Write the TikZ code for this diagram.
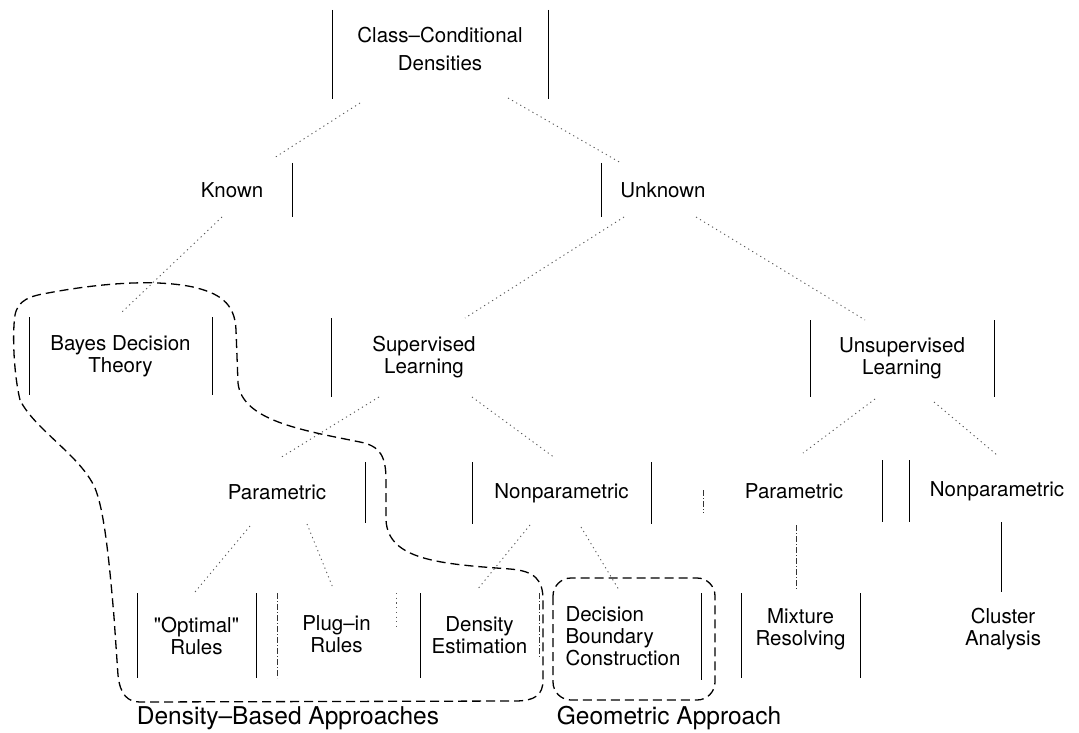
\documentclass[tikz,border=0pt]{standalone}
\usepackage{fontspec}
\setmainfont{TeX Gyre Heros}
\newfontfamily\plainq{TeX Gyre Heros}
\usetikzlibrary{calc}
\newcommand{\sq}{{\plainq "}}
\begin{document}
\begin{tikzpicture}[x=1pt,y=-1pt,
  box/.style={inner sep=0pt, outer sep=0pt, align=center, font=\fontsize{20.5}{22}\selectfont},
  side/.style={line width=0.85pt, black},
  faint/.style={line width=0.8pt, black!80, dash pattern=on 6pt off 2pt on 1pt off 2pt},
  conn/.style={line width=0.9pt, black!65, dash pattern=on 1.2pt off 3.5pt},
  connsolid/.style={line width=0.85pt, black},
  blob/.style={line width=1.3pt, dash pattern=on 9pt off 5pt, line join=round},
  grouplabel/.style={inner sep=0pt, font=\fontsize{24.5}{26}\selectfont}]
\useasboundingbox (0,0) rectangle (1079,733);

% nodes
\node[box, minimum width=216pt, minimum height=89pt, font=\fontsize{20.5}{28}\selectfont] (top) at (440,48.5) {Class–Conditional\\Densities};
\node[box, minimum width=120pt, minimum height=54pt] (known) at (232,190) {Known};
\node[box, minimum width=124pt, minimum height=54pt] (unknown) at (663,190) {Unknown};
\node[box, minimum width=183pt, minimum height=78pt] (bayes) at (120.5,356) {Bayes Decision\\Theory};
\node[box, minimum width=186pt, minimum height=79pt] (sup) at (424,357.5) {Supervised\\Learning};
\node[box, minimum width=184pt, minimum height=77pt] (unsup) at (902,358.5) {Unsupervised\\Learning};
\node[box, minimum width=176pt, minimum height=61pt] (parL) at (277,492.5) {Parametric};
\node[box, minimum width=179pt, minimum height=62pt] (nonparL) at (561.5,493) {Nonparametric};
\node[box, minimum width=176pt, minimum height=62pt] (parR) at (794,491) {Parametric};
\node[box, minimum width=176pt, minimum height=62pt] (nonparR) at (997,491) {Nonparametric};
\node[box, minimum width=119pt, minimum height=85pt] (optimal) at (196.5,635.5) {\sq Optimal\sq\\Rules};
\node[box, minimum width=119pt, minimum height=85pt] (plugin) at (336.5,634) {Plug–in\\Rules};
\node[box, minimum width=119pt, minimum height=85pt] (density) at (479.5,635.5) {Density\\Estimation};
\node[box, align=left, minimum width=156pt, minimum height=87pt] (decision) at (623,636.5) {Decision\\Boundary\\Construction};
\node[box, minimum width=119pt, minimum height=85pt] (mixture) at (800.5,629.5) {Mixture\\Resolving};
\node[box, minimum width=117pt, minimum height=85pt] (cluster) at (1003,629.5) {Cluster\\Analysis};

% box sides
\draw[side] ($(top.north west)+(0,6)$) -- ($(top.south west)+(0,6)$);
\draw[side] ($(top.north east)+(0,6)$) -- ($(top.south east)+(0,6)$);
\draw[side] (known.north east) -- (known.south east);
\draw[side] (unknown.north west) -- (unknown.south west);
\draw[side] (bayes.north west) -- (bayes.south west);
\draw[side] (bayes.north east) -- (bayes.south east);
\draw[side] (sup.north west) -- (sup.south west);
\draw[side] (unsup.north west) -- (unsup.south west);
\draw[side] (unsup.north east) -- (unsup.south east);
\draw[side] (parL.north east) -- (parL.south east);
\draw[side] (nonparL.north west) -- (nonparL.south west);
\draw[side] (nonparL.north east) -- (nonparL.south east);
\draw[faint] ($(parR.west)+(-3,-1)$) -- ($(parR.west)+(-3,22)$);
\draw[side] (parR.north east) -- (parR.south east);
\draw[side] (nonparR.north west) -- (nonparR.south west);
\draw[side] (optimal.north west) -- (optimal.south west);
\draw[side] (optimal.north east) -- (optimal.south east);
\draw[faint] ($(plugin.north west)+(0,1.5)$) -- ($(plugin.south west)+(0,1.5)$);
\draw[conn] ($(plugin.north east)+(0,1.5)$) -- ($(plugin.north east)+(0,35)$);
\draw[side] (density.north west) -- (density.south west);
\draw[faint] (density.north east) -- ($(density.north east)+(0,64)$);
\draw[side] (decision.north east) -- (decision.south east);
\draw[side] ($(mixture.north west)+(0,6)$) -- ($(mixture.south west)+(0,6)$);
\draw[side] ($(mixture.north east)+(0,6)$) -- ($(mixture.south east)+(0,6)$);

% connectors
\draw[conn] ($(top.south)+(-80,10)$) -- ($(known.north)+(42,-5)$);
\draw[conn] ($(top.south)+(68,5)$) -- ($(unknown.north)+(-42,0)$);
\draw[conn] ($(known.south)+(-10,0)$) -- ($(bayes.north)+(1.5,-5)$);
\draw[conn] ($(unknown.south)+(-39,0)$) -- ($(sup.north)+(41,0)$);
\draw[conn] ($(unknown.south)+(33,0)$) -- ($(unsup.north)+(-37,0)$);
\draw[conn] ($(sup.south)+(-45,0)$) -- ($(parL.north)+(3,-4)$);
\draw[conn] ($(sup.south)+(48,0)$) -- ($(nonparL.north)+(-6.5,-4)$);
\draw[conn] ($(unsup.south)+(-27,2)$) -- ($(parR.north)+(9,-7)$);
\draw[conn] ($(unsup.south)+(32,5)$) -- ($(nonparR.north)+(0,-5)$);
\draw[conn] ($(parL.south)+(-27,3)$) -- ($(optimal.north)+(-1.5,-1)$);
\draw[conn] ($(parL.south)+(30,1)$) -- ($(plugin.north)+(-3.5,-3.5)$);
\draw[conn] ($(nonparL.south)+(-31.5,1)$) -- ($(density.north)+(-2.5,-3)$);
\draw[conn] ($(nonparL.south)+(19.5,3)$) -- ($(decision.north)+(-4,-3)$);
\draw[faint] ($(parR.south)+(2,3)$) -- ($(mixture.north)+(-4.5,3)$);
\draw[connsolid] ($(nonparR.south)+(4,0)$) -- ($(cluster.north)+(-2,5)$);

% groupings
\draw[blob] (20,400)
  .. controls (14,375) and (12,335) .. (15,315)
  .. controls (18,300) and (30,296) .. (48,293)
  .. controls (90,285) and (150,278) .. (193,287)
  .. controls (218,293) and (235,302) .. (236,330)
  -- (238,383)
  .. controls (242,420) and (300,430) .. (360,442)
  .. controls (380,446) and (386,456) .. (386,480)
  -- (386,520)
  .. controls (388,560) and (440,564) .. (510,569)
  .. controls (535,571) and (543,580) .. (543,600)
  -- (543,680)
  .. controls (543,695) and (535,701) .. (515,701)
  -- (140,702)
  .. controls (128,702) and (120,695) .. (118,675)
  -- (114,617)
  .. controls (108,545) and (103,508) .. (95,488)
  .. controls (80,455) and (35,430) .. (20,400) -- cycle;
\draw[blob, rounded corners=18pt] (553,578) rectangle (715,700);

\node[grouplabel] (dlabel) at (288,718) {Density–Based Approaches};
\node[grouplabel] (glabel) at (669,718) {Geometric Approach};
\end{tikzpicture}
\end{document}
